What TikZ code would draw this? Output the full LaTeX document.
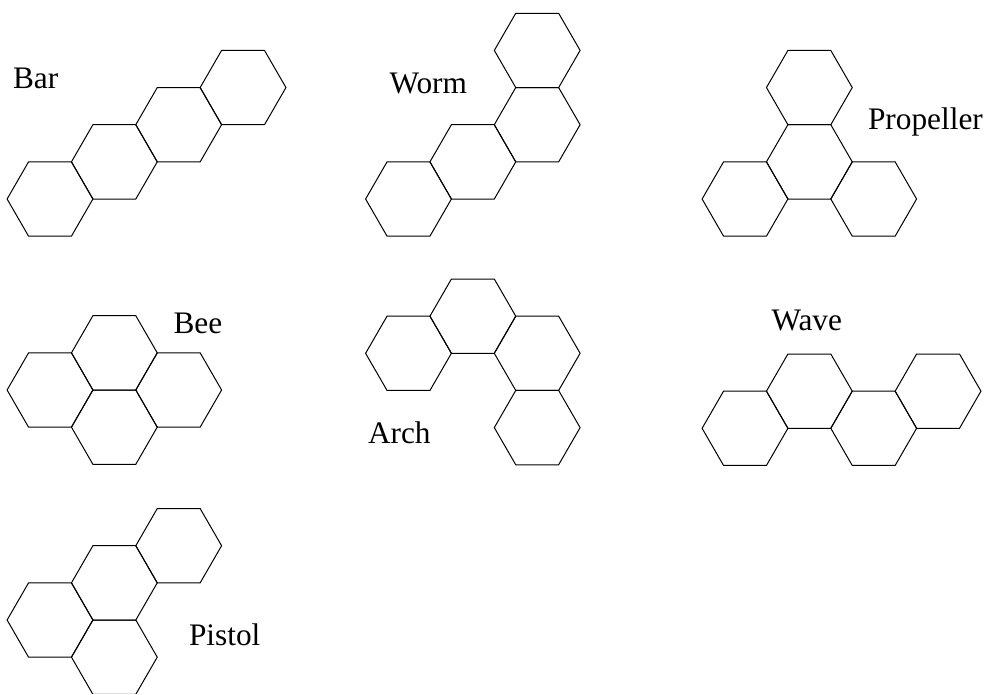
\documentclass[tikz,border=0pt]{standalone}
\usepackage{fontspec}
\setmainfont{Liberation Serif}

\tikzset{every picture/.style={line width=0.75pt}}
\tikzset{hexcell/.pic={\draw (-42.9,0) -- (-21.45,-37.15) -- (21.45,-37.15) -- (42.9,0) -- (21.45,37.15) -- (-21.45,37.15) -- cycle ;}}
\tikzset{lbl/.style={anchor=base west,inner sep=0pt,font=\fontsize{23.5}{28}\selectfont}}

\begin{document}
\begin{tikzpicture}[x=0.75pt,y=0.75pt,yscale=-1,xscale=1]
%set diagram left start at 0, and has height of 694
\useasboundingbox (0,0) rectangle (990,694);
\clip (0,0) rectangle (990,693);

%Shape: Hexagons [Bar]
\pic at (50,199) {hexcell};
\pic at (114.35,161.85) {hexcell};
\pic at (178.7,124.7) {hexcell};
\pic at (243.05,87.55) {hexcell};
%Shape: Hexagons [Worm]
\pic at (408.5,199) {hexcell};
\pic at (472.85,161.85) {hexcell};
\pic at (537.2,124.7) {hexcell};
\pic at (537.2,50.4) {hexcell};
%Shape: Hexagons [Propeller]
\pic at (809.35,87.55) {hexcell};
\pic at (809.35,161.85) {hexcell};
\pic at (745,199) {hexcell};
\pic at (873.7,199) {hexcell};
%Shape: Hexagons [Bee]
\pic at (50,390) {hexcell};
\pic at (114.35,352.85) {hexcell};
\pic at (178.7,390) {hexcell};
\pic at (114.35,427.15) {hexcell};
%Shape: Hexagons [Arch]
\pic at (408.5,353.3) {hexcell};
\pic at (472.85,316.15) {hexcell};
\pic at (537.2,353.3) {hexcell};
\pic at (537.2,427.6) {hexcell};
%Shape: Hexagons [Wave]
\pic at (745,428.3) {hexcell};
\pic at (809.35,391.15) {hexcell};
\pic at (873.7,428.3) {hexcell};
\pic at (938.05,391.15) {hexcell};
%Shape: Hexagons [Pistol]
\pic at (50,620) {hexcell};
\pic at (114.35,582.85) {hexcell};
\pic at (178.7,545.7) {hexcell};
\pic at (114.35,657.15) {hexcell};

% Text Node
\draw (12.5,88) node (bar) [lbl] {Bar};
% Text Node
\draw (389,93.3) node (worm) [lbl] {Worm};
% Text Node
\draw (867.5,129) node (propeller) [lbl] {Propeller};
% Text Node
\draw (173,333) node (bee) [lbl] {Bee};
% Text Node
\draw (367.5,443.3) node (arch) [lbl] {Arch};
% Text Node
\draw (771,330.7) node (wave) [lbl] {Wave};
% Text Node
\draw (188.5,645.7) node (pistol) [lbl] {Pistol};

\end{tikzpicture}
\end{document}
